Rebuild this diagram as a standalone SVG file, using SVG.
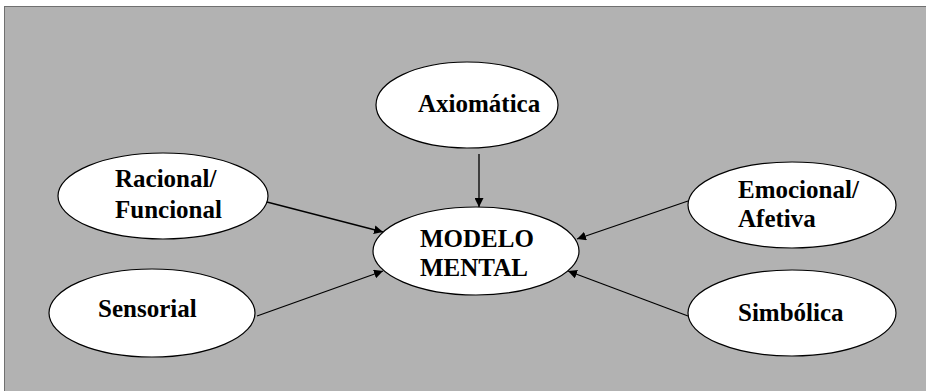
<svg xmlns="http://www.w3.org/2000/svg" width="926" height="391" viewBox="0 0 926 391">
<style>
.n{fill:#fff;stroke:#000;stroke-width:1.2}
.t{font-family:"Liberation Serif","Times New Roman",serif;font-weight:bold;font-size:25px;fill:#000}
.c{stroke:#000;stroke-width:1.3;fill:none;marker-end:url(#ah)}
</style>
<defs>
<marker id="ah" viewBox="0 0 10 10" refX="10" refY="5" markerWidth="9" markerHeight="9" markerUnits="userSpaceOnUse" orient="auto">
<path d="M0,0 L10,5 L0,10 z" fill="#000"/>
</marker>
</defs>
<rect x="4.5" y="6.5" width="930" height="400" fill="#b2b2b2" stroke="#707070" stroke-width="1"/>
<g id="connectors">
<line class="c" x1="479" y1="154" x2="479" y2="207"/>
<line class="c" x1="263" y1="201" x2="383" y2="232"/>
<line class="c" x1="257" y1="316" x2="383" y2="271"/>
<line class="c" x1="688" y1="201" x2="577" y2="239"/>
<line class="c" x1="688" y1="316" x2="568" y2="271"/>
</g>
<g id="axiomatica">
<ellipse class="n" cx="467" cy="105" rx="91" ry="43"/>
<text class="t" x="418" y="112">Axiomática</text>
</g>
<g id="modelo">
<ellipse class="n" cx="476" cy="251" rx="103" ry="44"/>
<text class="t" x="420" y="247">MODELO</text>
<text class="t" x="420" y="276">MENTAL</text>
</g>
<g id="racional">
<ellipse class="n" cx="163" cy="196" rx="105" ry="43"/>
<text class="t" x="115" y="187">Racional/</text>
<text class="t" x="115" y="218">Funcional</text>
</g>
<g id="sensorial">
<ellipse class="n" cx="152" cy="313" rx="103" ry="44"/>
<text class="t" x="98" y="317">Sensorial</text>
</g>
<g id="emocional">
<ellipse class="n" cx="792" cy="205" rx="104" ry="43"/>
<text class="t" x="738" y="198">Emocional/</text>
<text class="t" x="738" y="227">Afetiva</text>
</g>
<g id="simbolica">
<ellipse class="n" cx="792" cy="313" rx="104" ry="43"/>
<text class="t" x="738" y="321">Simbólica</text>
</g>
</svg>
